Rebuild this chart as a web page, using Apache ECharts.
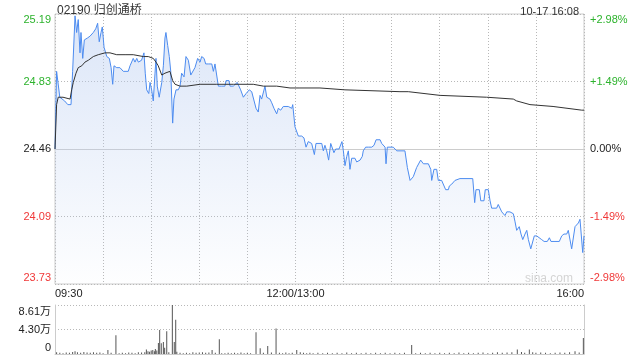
<!DOCTYPE html>
<html>
<head>
<meta charset="utf-8">
<script src="https://cdn.jsdelivr.net/npm/echarts@6/dist/echarts.min.js"></script>
<style>html,body{margin:0;padding:0;background:#fff}#c{width:640px;height:360px}</style>
</head>
<body>
<div id="c"></div>
<script>
const stockTitle = '02190 归创通桥';
const stampText = '10-17 16:08';
const prevClose = 24.46;
const pctRange = 2.985;

const xTickLabels = {0: '09:30', 150: '12:00/13:00', 330: '16:00'};
const leftTicks = ['23.73', '24.09', '24.46', '24.83', '25.19'];
const rightTicks = ['-2.98%', '-1.49%', '0.00%', '+1.49%', '+2.98%'];
const volTicks = ['0', '4.30万', '8.61万'];
const volMax = 86100;

// minutes after 09:30 (lunch break removed; 150 = 12:00/13:00)
const priceTimes = [0,1,3,4,6,8,10,11,12.5,13.5,
14.5,15.6,16.2,17.3,18.3,20.2,21.8,23.9,25.4,26.6,
27.6,28.7,29.5,30.6,32.3,33.9,35,36,36.8,38.5,
40.5,42.6,45.7,46.8,48.8,49.9,51,52,54,55.5,
56.3,57.2,58.5,59.3,60.3,61.3,62.4,63,63.8,65,
66.6,67.6,68.6,69.2,70.3,71.3,72.2,73.4,74.2,75.5,
76.9,78,79,80.5,81.7,83.2,84.7,85.9,87.3,88.4,
89,90.5,91.5,93,94,95.6,97.8,98.8,99.8,100.9,
101.9,104,106,106.7,108.5,109.2,111.2,112.3,113.7,114.9,
115.8,117.5,119.2,121.2,122.7,123.7,125.4,126.8,127.9,128.9,
130,131,132.1,134.1,135.2,136.6,138.3,139.3,140.8,142.4,
143.5,145.5,147.7,148.3,149.7,151.8,153.9,155.3,156.6,158,
160.1,160.8,161.8,162.8,166.4,167.4,168.4,169.5,170.7,172,
173,174,175.1,176.1,177.2,178.2,179,179.9,180.9,182,
183,184,185.1,187.1,188.2,190.3,191.7,192.3,192.8,193.8,
195.5,197.6,199,200.3,202.8,203.8,204.8,205.9,206.5,207.3,
211,212.1,213.2,218.3,219.8,221.5,223.5,225.6,226.7,228.1,
229.8,232.9,234.4,235,236.4,238.1,239.1,241.2,242.2,243.7,
245.4,246,247.5,248.5,249.5,252.6,260.6,261.8,262.6,264.7,
265.6,267.6,268.4,270.3,271.4,272.4,275.5,276.5,277.6,278.7,
280.7,281.8,283.8,285.9,286.9,288,289.6,290.7,291.8,293.2,
294.3,295.3,296.8,298,299,300.5,301.5,303.6,305.1,307.1,
308.4,309.4,311.9,314.6,316.1,317.5,319.2,320.2,321.3,322.3,
323.4,324.4,325.5,326.5,327.5,328.1,329.2,330];

const prices = [24.46,24.88,24.74,24.73,24.72,24.70,24.70,24.88,25.18,25.09,
25.16,24.98,25.09,24.95,25.05,25.06,25.07,25.09,25.11,25.14,
25.04,25.09,25.12,25.01,24.96,24.95,24.90,24.81,24.91,24.90,
24.90,24.88,24.88,24.91,24.95,24.93,24.95,24.93,24.94,24.98,
24.87,24.78,24.76,24.82,24.78,24.72,24.87,24.95,24.80,24.74,
24.82,24.91,25.06,25.09,25.02,24.96,24.88,24.60,24.73,24.78,
24.78,24.80,24.87,24.85,24.96,24.94,24.86,24.87,24.90,24.91,
24.95,24.93,24.96,24.95,24.92,24.92,24.92,24.88,24.92,24.91,
24.80,24.80,24.80,24.83,24.83,24.80,24.80,24.81,24.82,24.83,
24.78,24.74,24.76,24.78,24.77,24.76,24.68,24.66,24.75,24.73,
24.73,24.80,24.74,24.73,24.71,24.68,24.65,24.68,24.67,24.69,
24.70,24.69,24.68,24.70,24.58,24.53,24.53,24.52,24.47,24.50,
24.49,24.50,24.43,24.49,24.49,24.45,24.48,24.45,24.40,24.49,
24.48,24.44,24.46,24.45,24.46,24.46,24.50,24.45,24.37,24.42,
24.45,24.35,24.41,24.41,24.39,24.40,24.42,24.45,24.44,24.47,
24.47,24.47,24.48,24.51,24.51,24.49,24.48,24.47,24.38,24.47,
24.47,24.46,24.45,24.45,24.36,24.29,24.31,24.36,24.36,24.40,
24.38,24.38,24.35,24.29,24.35,24.35,24.29,24.29,24.28,24.24,
24.24,24.26,24.27,24.28,24.29,24.30,24.30,24.17,24.24,24.24,
24.18,24.18,24.24,24.24,24.18,24.14,24.14,24.16,24.16,24.12,
24.10,24.12,24.12,24.11,24.07,24.02,24.04,24.00,23.97,24.00,
24.02,23.97,23.92,23.92,23.99,23.99,23.98,23.97,23.96,23.96,
23.98,23.96,23.96,23.96,23.99,24.00,24.00,24.02,24.01,23.92,
23.92,24.04,24.03,24.06,24.08,24.08,23.90,23.99];

const avgTimes = [0,1,2,5,9.4,10.4,11.4,13.1,14.5,16.7,
18.7,20.8,23.9,27,31.2,34.3,38.5,43.7,48.8,55.1,
58.2,61.3,63,64.4,66.6,68.6,71.7,73.4,74.9,78,
82.2,90.5,100.9,111.2,123.7,130,138.3,146.6,152.8,165.3,
180.9,215.2,220.4,221.5,240.2,269.3,285.9,288,296.3,310.7,
328.6,330];
const avgPrices = [24.46,24.70,24.74,24.74,24.73,24.78,24.82,24.87,24.90,24.91,
24.93,24.94,24.96,24.97,24.98,24.98,24.97,24.97,24.97,24.96,
24.96,24.95,24.93,24.91,24.86,24.87,24.88,24.83,24.81,24.80,
24.80,24.81,24.81,24.81,24.81,24.80,24.80,24.79,24.79,24.79,
24.78,24.77,24.77,24.76,24.75,24.74,24.73,24.72,24.70,24.69,
24.67,24.67];

const volTimes = [1,3,5,7,9,11,12.5,14,16,18,
20,22,24,26,28,30,33,35,38,40,
42,44,46,48,50,52,54,56,57,58,
59,60,61,62,62.6,63.5,64.5,65.3,66.3,67.6,
68.4,69.7,71,73.2,74.4,75.3,76,78,80,82,
84,86,88,90,92,94,96,98,100,102.5,
104,106,108,110,112,114,116,118,120,122,
125.4,128,130,132.7,135,137.9,140,142,144,146,
148,150.8,153,155,157,159,161,164,167,170,
173,176,179,182,185,188,191,194,197,200,
203,206,209,212,215,218,222.5,225,228,231,
234,237,240,243,246,249,252,255,258,261,
264,267,270,273,276,279,282,285,288.4,291,
293,295.9,298,300,303,306,309,312,315,318,
321,324.4,327,329.6];
const volValues = [3000,2000,1500,2500,2000,3500,5000,3000,2000,3500,
2500,2000,3000,2000,2500,1500,7000,2000,33000,1500,
2000,1500,2500,2000,1500,3000,2500,3000,8000,5000,
4000,6000,7000,5000,9000,6000,19500,42000,19000,21000,
11000,40000,3000,86100,21000,60000,4000,2000,1500,2000,
1500,3000,2000,2500,3000,2000,2500,7000,2000,26000,
1500,1500,2000,1500,2000,1500,2500,1500,2000,1500,
38000,10000,2000,14000,2500,45000,2000,1500,2500,1500,
2000,7000,3000,2000,1500,2000,1500,2000,1500,2000,
1500,2000,1500,2500,1500,2000,1500,2000,1500,2000,
1500,2000,1500,2000,1500,2000,16000,1500,2000,1500,
2000,1500,2000,1500,2000,1500,2500,1500,2000,1500,
2000,2500,1500,2000,3000,2000,2500,3000,8000,3500,
2000,8000,3000,2000,2500,2000,1500,2000,2500,2000,
3000,5000,2500,28000];

const toPct = p => (p - prevClose) / prevClose * 100;
const priceData = priceTimes.map((t, i) => [t, toPct(prices[i])]);
const avgData = avgTimes.map((t, i) => [t, toPct(avgPrices[i])]);
const volData = volTimes.map((t, i) => [t, volValues[i]]);

const FONT = 'Arial, "Liberation Sans", "Noto Sans CJK SC", sans-serif';
const step = pctRange / 2;
const tickIdx = v => Math.round(parseFloat(v) / step) + 2;
const tickColor = v => { const k = tickIdx(v); return k > 2 ? '#2db32d' : (k < 2 ? '#f03838' : '#222'); };
const shiftLabel = (s, k, n) => k === n ? '\n' + s : (k === 0 ? s + '\n' : s);
const gridLine = {type: [1, 2], color: '#b8b8b8', width: 1};

const chart = echarts.init(document.getElementById('c'), null, {renderer: 'canvas'});
chart.setOption({
  animation: false,
  backgroundColor: '#fff',
  textStyle: {fontFamily: FONT},
  title: [
    {text: stockTitle, left: 52, top: 0, textStyle: {fontSize: 12, fontWeight: 'normal', color: '#333', fontFamily: FONT}},
    {text: stampText, right: 56, top: 1, textStyle: {fontSize: 11, fontWeight: 'normal', color: '#333', fontFamily: FONT}}
  ],
  graphic: [{
    type: 'text', right: 67, top: 273, z: 10,
    style: {text: 'sina.com', fill: '#d4d4d4', font: '12px ' + FONT}
  }],
  grid: [
    {left: 55, top: 14, width: 529, height: 270, show: true, borderColor: '#cccccc', borderWidth: 1,
     backgroundColor: 'transparent', outerBoundsMode: 'none', containLabel: false},
    {left: 55, top: 305, width: 529, height: 49, show: false, outerBoundsMode: 'none', containLabel: false}
  ],
  xAxis: [
    {type: 'value', gridIndex: 0, min: 0, max: 330, interval: 30,
     axisLine: {show: true, lineStyle: {color: '#cccccc'}}, axisTick: {show: false},
     splitLine: {show: true, lineStyle: gridLine},
     axisLabel: {show: true, margin: 4, fontSize: 11, color: '#222', fontFamily: FONT,
       alignMinLabel: 'left', alignMaxLabel: 'right', showMinLabel: true, showMaxLabel: true,
       formatter: v => xTickLabels[v] || ''}},
    {type: 'value', gridIndex: 1, min: 0, max: 330, interval: 30,
     axisLine: {show: true, lineStyle: {color: '#cccccc'}}, axisTick: {show: false},
     splitLine: {show: false}, axisLabel: {show: false}}
  ],
  yAxis: [
    {type: 'value', gridIndex: 0, position: 'left', min: -pctRange, max: pctRange, interval: step,
     axisLine: {show: false}, axisTick: {show: false},
     splitLine: {show: true, lineStyle: gridLine},
     axisLabel: {margin: 4, fontSize: 11, lineHeight: 12, fontFamily: FONT, color: tickColor,
       formatter: v => { const k = tickIdx(v); return shiftLabel(leftTicks[k], k, 4); }}},
    {type: 'value', gridIndex: 0, position: 'right', min: -pctRange, max: pctRange, interval: step,
     axisLine: {show: false}, axisTick: {show: false}, splitLine: {show: false},
     axisLabel: {margin: 6, fontSize: 11, lineHeight: 12, fontFamily: FONT, color: tickColor,
       formatter: v => { const k = tickIdx(v); return shiftLabel(rightTicks[k], k, 4); }}},
    {type: 'value', gridIndex: 1, position: 'left', min: 0, max: volMax, interval: volMax / 2,
     axisLine: {show: true, lineStyle: {color: '#cccccc'}}, axisTick: {show: false},
     splitLine: {show: true, lineStyle: gridLine},
     axisLabel: {margin: 4, fontSize: 11, lineHeight: 13, color: '#222', fontFamily: FONT,
       formatter: v => { const k = Math.round(v / (volMax / 2)); return shiftLabel(volTicks[k], k, 2); }}},
    {type: 'value', gridIndex: 1, position: 'right', min: 0, max: volMax, interval: volMax / 2,
     axisLine: {show: true, lineStyle: {color: '#cccccc'}}, axisTick: {show: false},
     splitLine: {show: false}, axisLabel: {show: false}}
  ],
  series: [
    {type: 'line', xAxisIndex: 0, yAxisIndex: 0, data: priceData, symbol: 'none', z: 3,
     lineStyle: {color: '#4d8cf0', width: 1},
     areaStyle: {origin: 'start', color: new echarts.graphic.LinearGradient(0, 0, 0, 1, [
       {offset: 0, color: 'rgba(185,205,241,0.72)'},
       {offset: 1, color: 'rgba(185,205,241,0.03)'}])}},
    {type: 'line', xAxisIndex: 0, yAxisIndex: 0, data: avgData, symbol: 'none', z: 4,
     lineStyle: {color: '#333333', width: 1}},
    {type: 'bar', xAxisIndex: 1, yAxisIndex: 2, data: volData, barWidth: 1,
     itemStyle: {color: '#555555'}}
  ]
});
</script>
</body>
</html>
